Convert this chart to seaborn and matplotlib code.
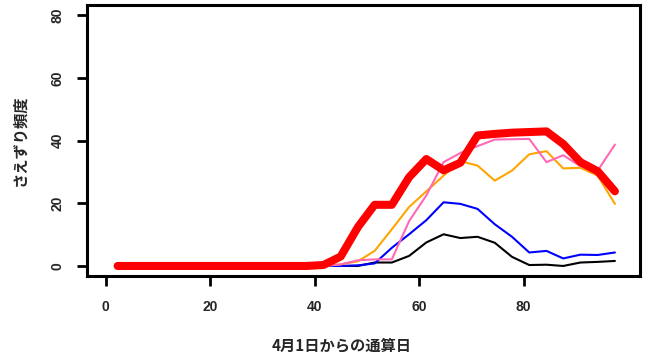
import matplotlib
matplotlib.use("Agg")
import matplotlib.pyplot as plt
import numpy as np
import pandas as pd
import seaborn as sns

# days since April 1 (x positions)
days = [2.3, 5.6, 8.9, 12.2, 15.4, 18.7, 22.0, 25.3, 28.6, 31.8,
        35.1, 38.4, 41.7, 45.0, 48.3, 51.5, 54.8, 58.1, 61.4, 64.7,
        67.9, 71.2, 74.5, 77.8, 81.1, 84.4, 87.6, 90.9, 94.2, 97.5]

zeros12 = [0] * 12
black_vals = zeros12 + [0, 0, 0, 1.1, 1.1, 3.2, 7.5, 10.1, 8.9, 9.3, 7.4, 2.9, 0.3, 0.4, 0, 1.1, 1.3, 1.6]
blue_vals = zeros12 + [0, 0, 0.2, 0.8, 5.8, 10.1, 14.6, 20.3, 19.8, 18.2, 13.3, 9.3, 4.3, 4.8, 2.4, 3.6, 3.5, 4.3]
orange_vals = zeros12 + [0, 0.5, 1.5, 4.8, 11.7, 18.8, 23.8, 28.8, 33.4, 32.0, 27.2, 30.4, 35.6, 36.6, 31.1, 31.3, 28.8, 19.8]
pink_vals = zeros12 + [0, 0.5, 1.8, 2.1, 2.1, 14.3, 22.5, 33.1, 36.0, 38.2, 40.3, 40.4, 40.5, 33.1, 35.3, 31.8, 30.4, 38.7]
red_vals = zeros12 + [0.3, 3.0, 12.4, 19.5, 19.5, 28.3, 34.1, 30.5, 32.9, 41.6, 42.1, 42.5, 42.7, 42.9, 38.9, 33.1, 30.2, 23.8]

series = [("black", black_vals, 1.5), ("blue", blue_vals, 1.5),
          ("orange", orange_vals, 1.5), ("hotpink", pink_vals, 1.5),
          ("red", red_vals, 5.8)]

xticks = [0, 20, 40, 60, 80]
yticks = [0, 20, 40, 60, 80]
xlabel = "4月1日からの通算日"
ylabel = "さえずり頻度"

sns.set_theme(style="white")
plt.rcParams['font.family'] = ['Liberation Sans', 'Noto Sans CJK JP', 'DejaVu Sans']

fig = plt.figure(figsize=(6.5, 3.57), dpi=100)
ax = fig.add_axes([87.3 / 650, 1 - 276 / 357, (640 - 87.3) / 650, (276 - 5) / 357])

for color, vals, lw in series:
    df = pd.DataFrame({"day": days, "freq": vals})
    sns.lineplot(data=df, x="day", y="freq", color=color, linewidth=lw, ax=ax,
                 solid_capstyle="round", solid_joinstyle="round")

ax.set_xlim(-3.5, 102.3)
ax.set_ylim(-3.2, 83.2)
ax.set_xticks(xticks)
ax.set_yticks(yticks)
for s in ax.spines.values():
    s.set_linewidth(2.2)
    s.set_color("black")
ax.tick_params(axis="both", direction="out", length=7.2, width=2.0, color="black",
               labelsize=10, bottom=True, left=True)
ax.tick_params(axis="x", pad=10)
ax.tick_params(axis="y", pad=9)
for lab in ax.get_xticklabels():
    lab.set_fontweight("bold")
for lab in ax.get_yticklabels():
    lab.set_fontweight("bold")
    lab.set_rotation(90)
    lab.set_va("center")
    lab.set_ha("right")

ax.set_xlabel(xlabel, fontsize=11, fontweight="bold",
              family=['Noto Sans CJK JP', 'DejaVu Sans'])
ax.set_ylabel(ylabel, fontsize=11, fontweight="bold",
              family=['Noto Sans CJK JP', 'DejaVu Sans'])
ax.xaxis.set_label_coords(0.461, -0.225)
ax.yaxis.set_label_coords(-0.108, 0.5)

fig.savefig("out.png", dpi=100)
